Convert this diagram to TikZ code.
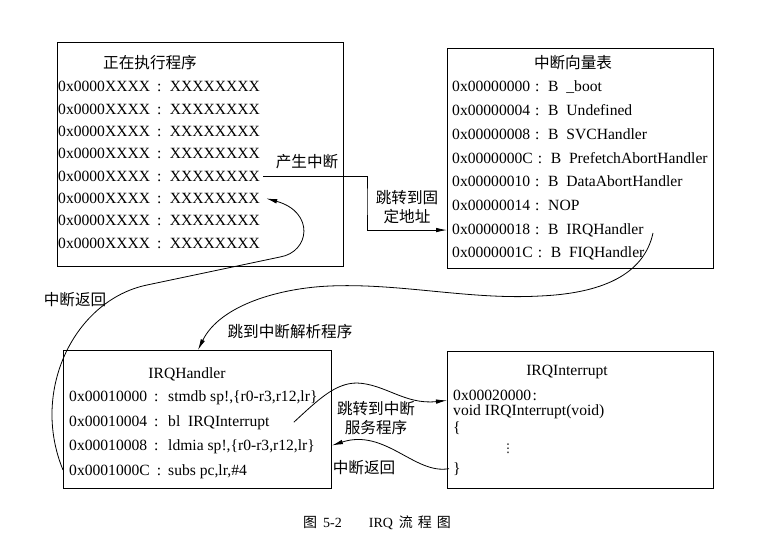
\documentclass[tikz,border=0pt]{standalone}
\usepackage{fontspec}
\setmainfont{Liberation Serif}
\newfontfamily\cjk{Noto Sans CJK SC}
\newfontfamily\dvf{DejaVu Sans}
\usetikzlibrary{arrows.meta}
\newcommand\colA{\hspace{7pt}:\hspace{8.5pt}}
\newcommand\colB{\hspace{5pt}:\hspace{8.7pt}}
\newcommand\colC{\hspace{7pt}:}
\begin{document}
\begin{tikzpicture}[x=1pt,y=-1pt,
  box/.style={draw, line width=0.9pt, inner sep=0pt, anchor=north west},
  txt/.style={inner sep=0pt, anchor=base west, font=\fontsize{15.6}{19}\selectfont},
  ttl/.style={inner sep=0pt, anchor=base, font=\fontsize{15.6}{19}\selectfont},
  lab/.style={inner sep=0pt, font=\cjk\fontsize{15.6}{19}\selectfont},
  conn/.style={line width=0.8pt},
  arr/.style={conn, -{Latex[length=11pt,width=4.5pt]}}]
\useasboundingbox (0,0) rectangle (774,543);
\fill[white] (0,0) rectangle (774,543);

% boxes
\node[box, minimum width=286pt, minimum height=224pt] (b1) at (57,42) {};
\node[box, minimum width=266pt, minimum height=220pt] (b2) at (447,48) {};
\node[box, minimum width=268pt, minimum height=138pt] (b3) at (63,350) {};
\node[box, minimum width=266pt, minimum height=137pt] (b4) at (447,351) {};

% box 1
\node[lab] (t1) at (150,63) {正在执行程序};
\foreach \i in {1,...,8}
  \node[txt] (a\i) at (58,{92+22.3*(\i-1)}) {0x0000XXXX\colA XXXXXXXX};

% box 2
\node[lab] (t2) at (573,63) {中断向量表};
\foreach \i/\t in {1/{0x00000000\colB B\enspace\_boot},
                   2/{0x00000004\colB B\enspace Undefined},
                   3/{0x00000008\colB B\enspace SVCHandler},
                   4/{0x0000000C\colB B\enspace PrefetchAbortHandler},
                   5/{0x00000010\colB B\enspace DataAbortHandler},
                   6/{0x00000014\colB NOP},
                   7/{0x00000018\colB B\enspace IRQHandler},
                   8/{0x0000001C\colB B\enspace FIQHandler}}
  \node[txt] (r\i) at (452,{92+23.7*(\i-1)}) {\t};

% box 3
\node[ttl] (t3) at (187,378) {IRQHandler};
\foreach \i/\ad/\ins in {1/0x00010000/{stmdb sp!,\{r0-r3,r12,lr\}},
                         2/0x00010004/{bl\enspace IRQInterrupt},
                         3/0x00010008/{ldmia sp!,\{r0-r3,r12,lr\}},
                         4/0x0001000C/{subs pc,lr,\#4}}
{
  \node[txt] (c\i a) at (69,{401.5+24.5*(\i-1)}) {\ad\colC};
  \node[txt] (c\i b) at (168,{401.5+24.5*(\i-1)}) {\ins};
}

% box 4
\node[ttl] (t4) at (567,375) {IRQInterrupt};
\node[txt] (d1) at (453,400) {0x00020000\hspace{1.5pt}:};
\node[txt] (d2) at (453,415) {void IRQInterrupt(void)};
\node[txt] (d3) at (453,432) {\{};
\node[inner sep=0pt, font=\dvf\fontsize{12}{12}\selectfont] (d4) at (508,449) {⋮};
\node[txt] (d5) at (453,473) {\}};

% labels
\node[lab] (l1) at (307,162) {产生中断};
\node[lab, align=center] (l2) at (407,207.5) {跳转到固\\定地址};
\node[lab] (l3) at (75,300) {中断返回};
\node[lab] (l4) at (290,332) {跳到中断解析程序};
\node[lab, align=center] (l5) at (376,418.5) {跳转到中断\\服务程序};
\node[lab] (l6) at (364,468) {中断返回};

% caption
\node[inner sep=0pt, anchor=base west, font=\fontsize{14}{16}\selectfont] (cap) at (303,527)
  {{\cjk 图}\hspace{6pt}5-2\hspace{27pt}IRQ\hspace{6pt}{\cjk 流}\hspace{5pt}{\cjk 程}\hspace{5pt}{\cjk 图}};

% connectors
\coordinate (j1) at (367,200);
\draw[arr] ([xshift=3pt]a5.east) -| (j1) |- (b2.west |- r7.west);

\draw[arr] (b3.west |- c4a.west) .. controls (30,390) and (75,300) .. (147,285)
  -- (280,257) .. controls (310,252) and (315,212) .. ([xshift=6pt]a6.east);

\coordinate (s3) at (653,233);
\draw[arr] (s3) .. controls (645,270) and (610,293) .. (540,296)
  .. controls (470,300) and (400,283) .. (330,286)
  .. controls (280,288) and (220,305) .. ([xshift=135pt]b3.north west);

\draw[arr] ([xshift=24pt]c2b.east) .. controls (318,400) and (335,383) .. (357,383)
  .. controls (385,384) and (405,405) .. (b4.west |- d1.south);

\draw[arr] ([xshift=-4pt]d5.west) .. controls (415,475) and (385,428) .. (b3.east |- c3a.west);
\end{tikzpicture}
\end{document}
